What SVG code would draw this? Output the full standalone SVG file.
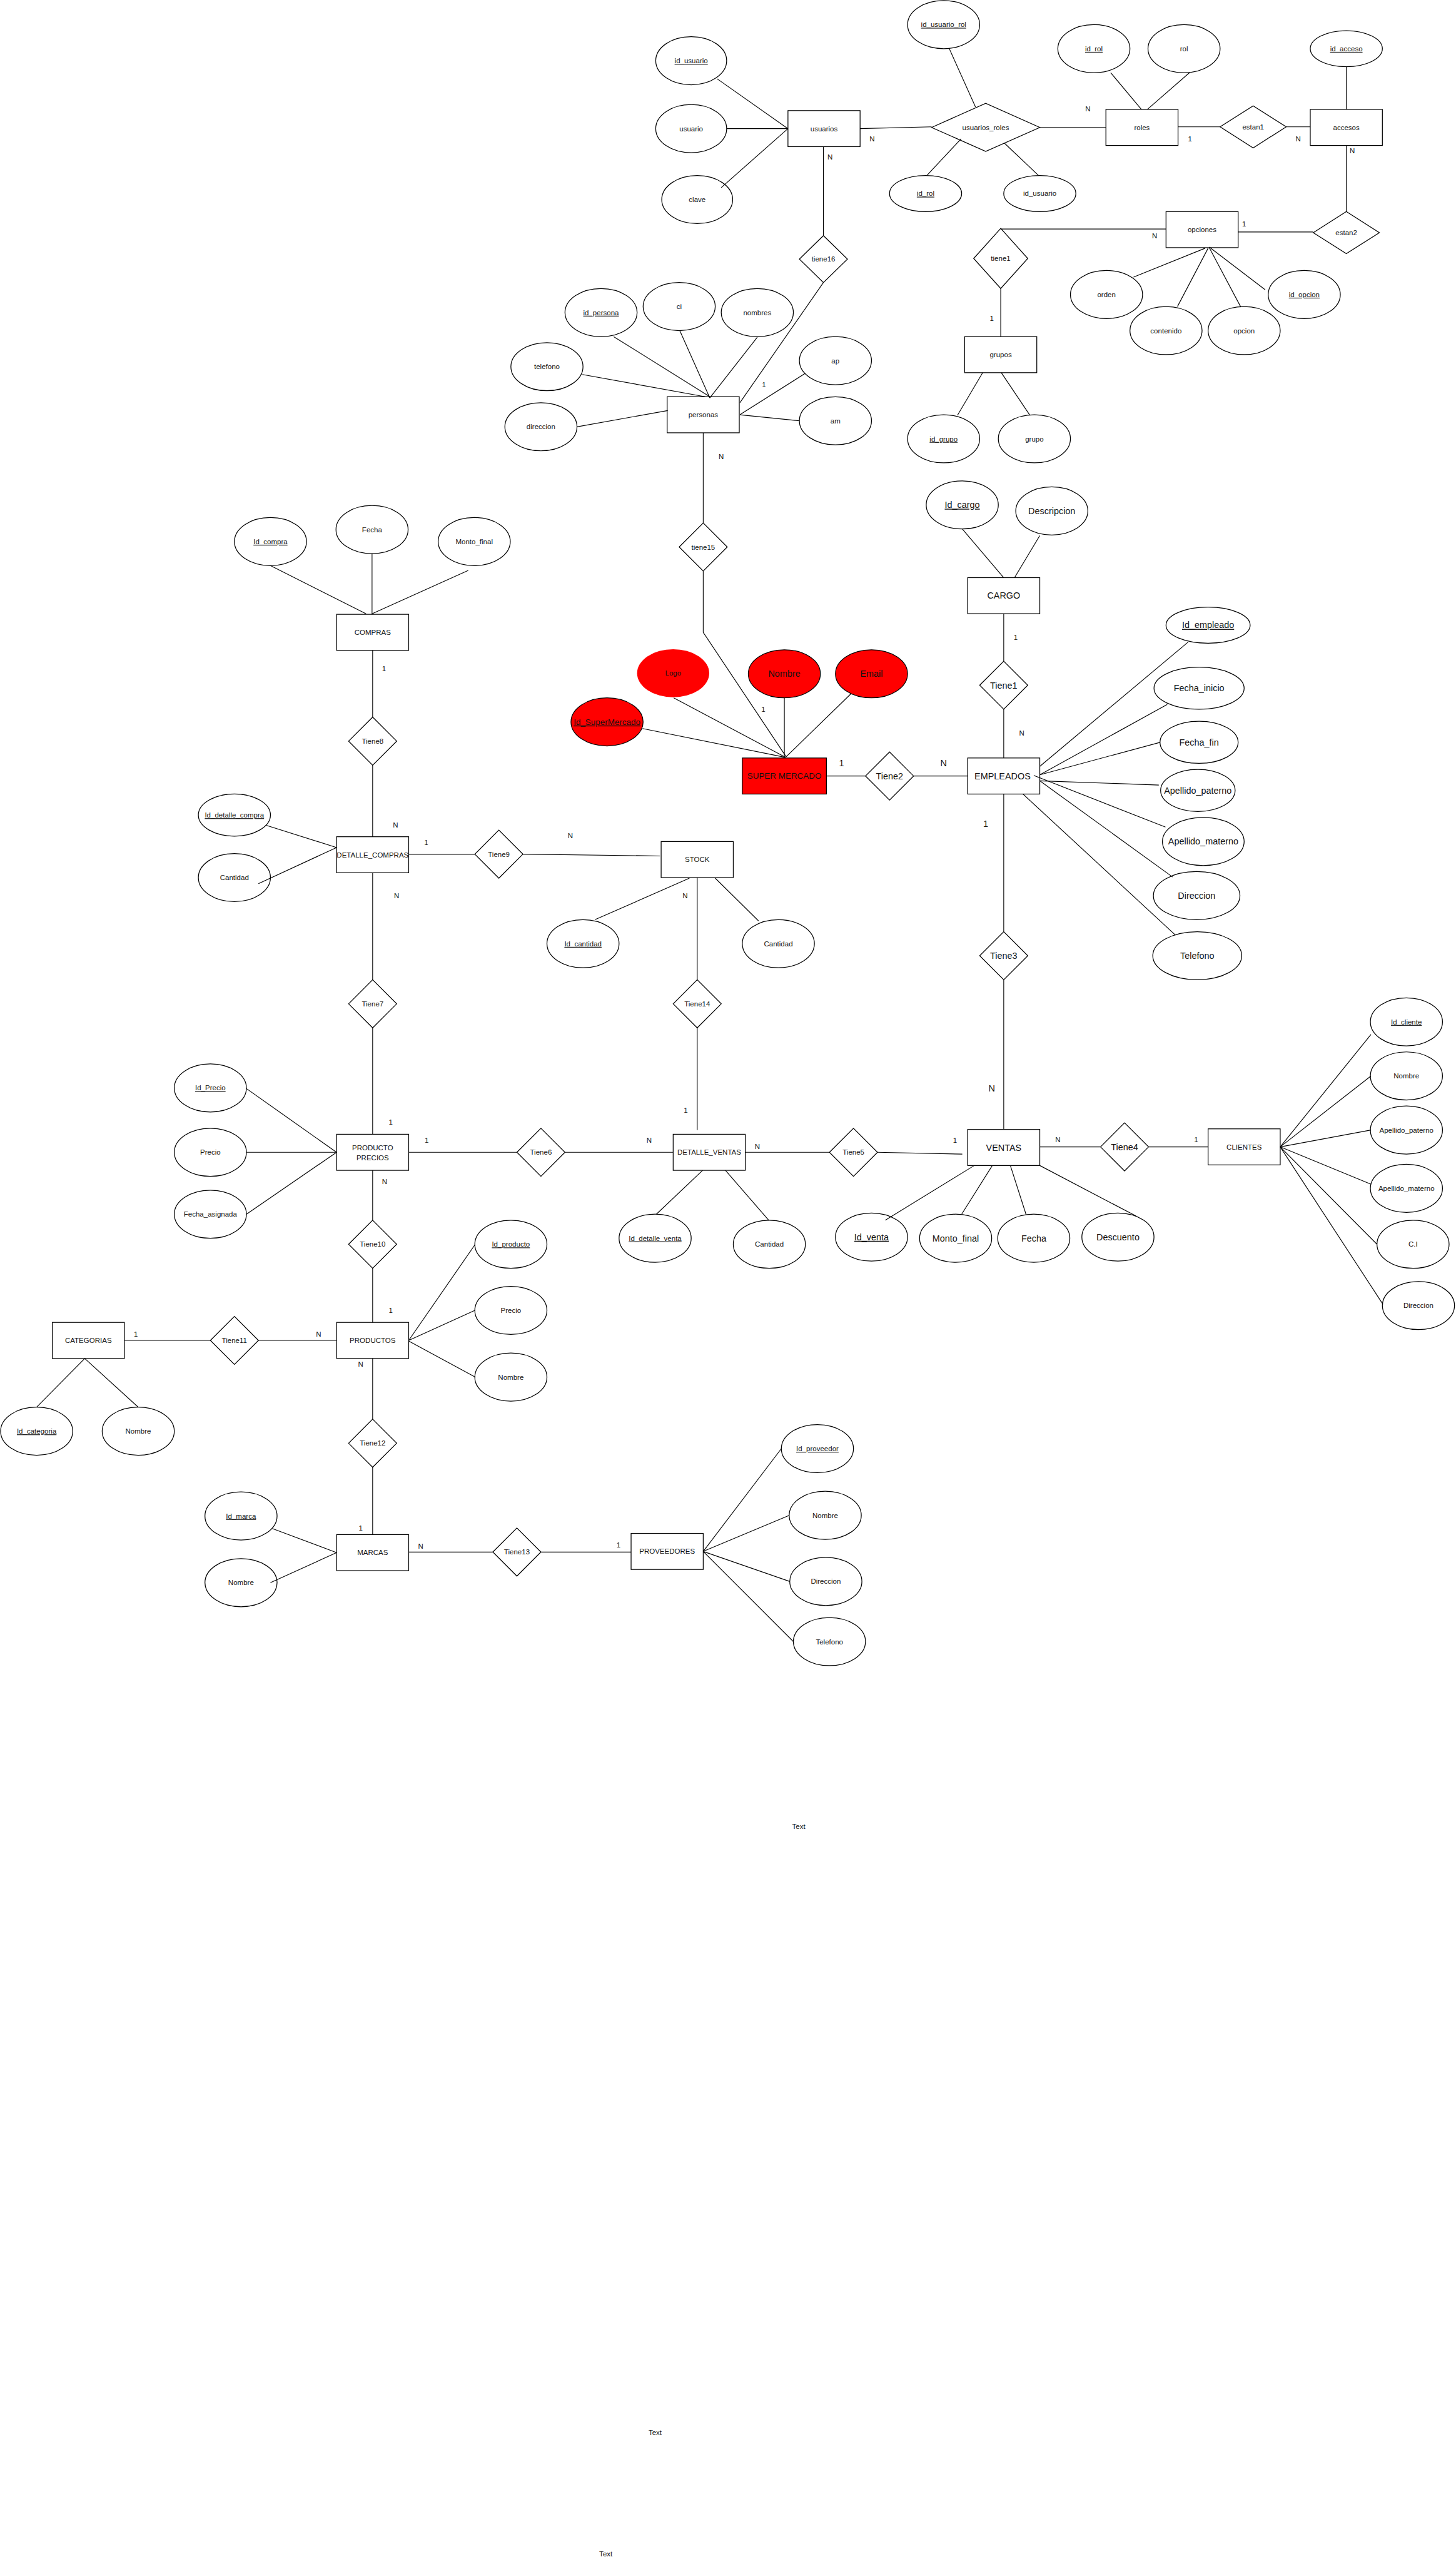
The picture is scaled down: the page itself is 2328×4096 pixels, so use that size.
<svg xmlns="http://www.w3.org/2000/svg" width="2328" height="4096" viewBox="0 0 2328 4096">
<style>
text{font-family:"Liberation Sans",Arial,Helvetica,sans-serif;font-size:12px;fill:#111;text-anchor:middle}
.b{font-size:15px}
.m{font-size:14px}
.k{text-decoration:underline}
.e rect,.a ellipse,.r polygon{fill:#fff;stroke:#000;stroke-width:1.3}
.red rect,.red ellipse{fill:#f00}
.nostroke ellipse{stroke:none}
#connectors line,#connectors polyline{stroke:#000;stroke-width:1.2;fill:none}
</style>
<rect width="2328" height="4096" fill="#fff"/>
<g transform="scale(0.961)">
<!-- entities -->
<g id="usuarios" class="e"><rect x="1311" y="184" width="120" height="60"/><text x="1371" y="214" dy=".35em">usuarios</text></g>
<g id="roles" class="e"><rect x="1840" y="182" width="120" height="60"/><text x="1900" y="212" dy=".35em">roles</text></g>
<g id="accesos" class="e"><rect x="2180" y="182" width="120" height="60"/><text x="2240" y="212" dy=".35em">accesos</text></g>
<g id="opciones" class="e"><rect x="1940" y="352" width="120" height="60"/><text x="2000" y="382" dy=".35em">opciones</text></g>
<g id="grupos" class="e"><rect x="1605" y="560" width="120" height="60"/><text x="1665" y="590" dy=".35em">grupos</text></g>
<g id="personas" class="e"><rect x="1110" y="660" width="120" height="60"/><text x="1170" y="690" dy=".35em">personas</text></g>
<g id="compras" class="e"><rect x="560" y="1022" width="120" height="60"/><text x="620" y="1052" dy=".35em">COMPRAS</text></g>
<g id="cargo" class="e"><rect x="1610" y="961" width="120" height="60"/><text class="b" x="1670" y="991" dy=".35em">CARGO</text></g>
<g id="supermercado" class="e red"><rect x="1235" y="1261" width="140" height="60"/><text class="m" x="1305" y="1291" dy=".35em">SUPER MERCADO</text></g>
<g id="empleados" class="e"><rect x="1610" y="1261" width="120" height="60"/><text class="b" x="1668" y="1291" dy=".35em">EMPLEADOS</text></g>
<g id="detalle_compras" class="e"><rect x="560" y="1392" width="120" height="60"/><text x="620" y="1422" dy=".35em">DETALLE_COMPRAS</text></g>
<g id="stock" class="e"><rect x="1100" y="1400" width="120" height="60"/><text x="1160" y="1430" dy=".35em">STOCK</text></g>
<g id="producto_precios" class="e"><rect x="560" y="1887" width="120" height="60"/><text x="620" y="1909" dy=".35em">PRODUCTO</text><text x="620" y="1926" dy=".35em">PRECIOS</text></g>
<g id="detalle_ventas" class="e"><rect x="1120" y="1887" width="120" height="60"/><text x="1180" y="1917" dy=".35em">DETALLE_VENTAS</text></g>
<g id="ventas" class="e"><rect x="1610" y="1879" width="120" height="60"/><text class="b" x="1670" y="1909" dy=".35em">VENTAS</text></g>
<g id="clientes" class="e"><rect x="2010" y="1878" width="120" height="60"/><text x="2070" y="1908" dy=".35em">CLIENTES</text></g>
<g id="productos" class="e"><rect x="560" y="2200" width="120" height="60"/><text x="620" y="2230" dy=".35em">PRODUCTOS</text></g>
<g id="categorias" class="e"><rect x="87" y="2200" width="120" height="60"/><text x="147" y="2230" dy=".35em">CATEGORIAS</text></g>
<g id="marcas" class="e"><rect x="560" y="2553" width="120" height="60"/><text x="620" y="2583" dy=".35em">MARCAS</text></g>
<g id="proveedores" class="e"><rect x="1050" y="2551" width="120" height="60"/><text x="1110" y="2581" dy=".35em">PROVEEDORES</text></g>
<!-- relationships -->
<g id="usuarios_roles" class="r"><polygon points="1550,212 1640,172 1730,212 1640,252"/><text x="1640" y="212" dy=".35em">usuarios_roles</text></g>
<g id="estan1" class="r"><polygon points="2030,211 2085,176 2140,211 2085,246"/><text x="2085" y="211" dy=".35em">estan1</text></g>
<g id="estan2" class="r"><polygon points="2185,387 2240,352 2295,387 2240,422"/><text x="2240" y="387" dy=".35em">estan2</text></g>
<g id="tiene1_grupos" class="r"><polygon points="1620,430 1665,380 1710,430 1665,480"/><text x="1665" y="430" dy=".35em">tiene1</text></g>
<g id="tiene16" class="r"><polygon points="1330,431 1370,392 1410,431 1370,470"/><text x="1370" y="431" dy=".35em">tiene16</text></g>
<g id="tiene15" class="r"><polygon points="1130,910 1170,870 1210,910 1170,950"/><text x="1170" y="910" dy=".35em">tiene15</text></g>
<g id="tiene8" class="r"><polygon points="580,1233 620,1193 660,1233 620,1273"/><text x="620" y="1233" dy=".35em">Tiene8</text></g>
<g id="tiene1" class="r"><polygon points="1630,1140 1670,1100 1710,1140 1670,1180"/><text class="b" x="1670" y="1140" dy=".35em">Tiene1</text></g>
<g id="tiene2" class="r"><polygon points="1440,1291 1480,1251 1520,1291 1480,1331"/><text class="b" x="1480" y="1291" dy=".35em">Tiene2</text></g>
<g id="tiene9" class="r"><polygon points="790,1421 830,1381 870,1421 830,1461"/><text x="830" y="1421" dy=".35em">Tiene9</text></g>
<g id="tiene3" class="r"><polygon points="1630,1590 1670,1550 1710,1590 1670,1630"/><text class="b" x="1670" y="1590" dy=".35em">Tiene3</text></g>
<g id="tiene7" class="r"><polygon points="580,1670 620,1630 660,1670 620,1710"/><text x="620" y="1670" dy=".35em">Tiene7</text></g>
<g id="tiene14" class="r"><polygon points="1120,1670 1160,1630 1200,1670 1160,1710"/><text x="1160" y="1670" dy=".35em">Tiene14</text></g>
<g id="tiene6" class="r"><polygon points="860,1917 900,1877 940,1917 900,1957"/><text x="900" y="1917" dy=".35em">Tiene6</text></g>
<g id="tiene5" class="r"><polygon points="1380,1917 1420,1877 1460,1917 1420,1957"/><text x="1420" y="1917" dy=".35em">Tiene5</text></g>
<g id="tiene4" class="r"><polygon points="1831,1908 1871,1868 1911,1908 1871,1948"/><text class="b" x="1871" y="1908" dy=".35em">Tiene4</text></g>
<g id="tiene10" class="r"><polygon points="580,2070 620,2030 660,2070 620,2110"/><text x="620" y="2070" dy=".35em">Tiene10</text></g>
<g id="tiene11" class="r"><polygon points="350,2230 390,2190 430,2230 390,2270"/><text x="390" y="2230" dy=".35em">Tiene11</text></g>
<g id="tiene12" class="r"><polygon points="580,2401 620,2361 660,2401 620,2441"/><text x="620" y="2401" dy=".35em">Tiene12</text></g>
<g id="tiene13" class="r"><polygon points="820,2582 860,2542 900,2582 860,2622"/><text x="860" y="2582" dy=".35em">Tiene13</text></g>
<!-- attributes -->
<g id="a_id_usuario" class="a"><ellipse cx="1150" cy="101" rx="59" ry="40"/><text class="k" x="1150" y="101" dy=".35em">id_usuario</text></g>
<g id="a_usuario" class="a"><ellipse cx="1150" cy="214" rx="59" ry="40"/><text x="1150" y="214" dy=".35em">usuario</text></g>
<g id="a_clave" class="a"><ellipse cx="1160" cy="332" rx="59" ry="40"/><text x="1160" y="332" dy=".35em">clave</text></g>
<g id="a_id_usuario_rol" class="a"><ellipse cx="1570" cy="41" rx="60" ry="40"/><text class="k" x="1570" y="41" dy=".35em">id_usuario_rol</text></g>
<g id="a_ur_id_rol" class="a"><ellipse cx="1540" cy="322" rx="60" ry="30"/><text class="k" x="1540" y="322" dy=".35em">id_rol</text></g>
<g id="a_ur_id_usuario" class="a"><ellipse cx="1730" cy="322" rx="60" ry="30"/><text x="1730" y="322" dy=".35em">id_usuario</text></g>
<g id="a_id_rol" class="a"><ellipse cx="1820" cy="81" rx="60" ry="40"/><text class="k" x="1820" y="81" dy=".35em">id_rol</text></g>
<g id="a_rol" class="a"><ellipse cx="1970" cy="81" rx="60" ry="40"/><text x="1970" y="81" dy=".35em">rol</text></g>
<g id="a_id_acceso" class="a"><ellipse cx="2240" cy="81" rx="60" ry="30"/><text class="k" x="2240" y="81" dy=".35em">id_acceso</text></g>
<g id="a_orden" class="a"><ellipse cx="1841" cy="490" rx="60" ry="40"/><text x="1841" y="490" dy=".35em">orden</text></g>
<g id="a_contenido" class="a"><ellipse cx="1940" cy="550" rx="60" ry="40"/><text x="1940" y="550" dy=".35em">contenido</text></g>
<g id="a_opcion" class="a"><ellipse cx="2070" cy="550" rx="60" ry="40"/><text x="2070" y="550" dy=".35em">opcion</text></g>
<g id="a_id_opcion" class="a"><ellipse cx="2170" cy="490" rx="60" ry="40"/><text class="k" x="2170" y="490" dy=".35em">id_opcion</text></g>
<g id="a_id_grupo" class="a"><ellipse cx="1570" cy="730" rx="60" ry="40"/><text class="k" x="1570" y="730" dy=".35em">id_grupo</text></g>
<g id="a_grupo" class="a"><ellipse cx="1721" cy="730" rx="60" ry="40"/><text x="1721" y="730" dy=".35em">grupo</text></g>
<g id="a_id_persona" class="a"><ellipse cx="1000" cy="520" rx="60" ry="40"/><text class="k" x="1000" y="520" dy=".35em">id_persona</text></g>
<g id="a_ci" class="a"><ellipse cx="1130" cy="510" rx="60" ry="40"/><text x="1130" y="510" dy=".35em">ci</text></g>
<g id="a_nombres" class="a"><ellipse cx="1260" cy="520" rx="60" ry="40"/><text x="1260" y="520" dy=".35em">nombres</text></g>
<g id="a_telefono" class="a"><ellipse cx="910" cy="610" rx="60" ry="40"/><text x="910" y="610" dy=".35em">telefono</text></g>
<g id="a_direccion" class="a"><ellipse cx="900" cy="710" rx="60" ry="40"/><text x="900" y="710" dy=".35em">direccion</text></g>
<g id="a_ap" class="a"><ellipse cx="1390" cy="600" rx="60" ry="40"/><text x="1390" y="600" dy=".35em">ap</text></g>
<g id="a_am" class="a"><ellipse cx="1390" cy="700" rx="60" ry="40"/><text x="1390" y="700" dy=".35em">am</text></g>
<g id="a_id_compra" class="a"><ellipse cx="450" cy="901" rx="60" ry="40"/><text class="k" x="450" y="901" dy=".35em">Id_compra</text></g>
<g id="a_c_fecha" class="a"><ellipse cx="619" cy="881" rx="60" ry="40"/><text x="619" y="881" dy=".35em">Fecha</text></g>
<g id="a_c_monto" class="a"><ellipse cx="789" cy="901" rx="60" ry="40"/><text x="789" y="901" dy=".35em">Monto_final</text></g>
<g id="a_id_cargo" class="a"><ellipse cx="1601" cy="840" rx="60" ry="40"/><text class="b k" x="1601" y="840" dy=".35em">Id_cargo</text></g>
<g id="a_descripcion" class="a"><ellipse cx="1750" cy="850" rx="60" ry="40"/><text class="b" x="1750" y="850" dy=".35em">Descripcion</text></g>
<g id="a_id_empleado" class="a"><ellipse cx="2010" cy="1040" rx="70" ry="30"/><text class="b k" x="2010" y="1040" dy=".35em">Id_empleado</text></g>
<g id="a_fecha_inicio" class="a"><ellipse cx="1995" cy="1145" rx="75" ry="35"/><text class="b" x="1995" y="1145" dy=".35em">Fecha_inicio</text></g>
<g id="a_fecha_fin" class="a"><ellipse cx="1995" cy="1235" rx="65" ry="35"/><text class="b" x="1995" y="1235" dy=".35em">Fecha_fin</text></g>
<g id="a_e_ap" class="a"><ellipse cx="1993" cy="1315" rx="62" ry="35"/><text class="b" x="1993" y="1315" dy=".35em">Apellido_paterno</text></g>
<g id="a_e_am" class="a"><ellipse cx="2002" cy="1400" rx="68" ry="40"/><text class="b" x="2002" y="1400" dy=".35em">Apellido_materno</text></g>
<g id="a_e_dir" class="a"><ellipse cx="1991" cy="1490" rx="72" ry="40"/><text class="b" x="1991" y="1490" dy=".35em">Direccion</text></g>
<g id="a_e_tel" class="a"><ellipse cx="1992" cy="1590" rx="74" ry="40"/><text class="b" x="1992" y="1590" dy=".35em">Telefono</text></g>
<g id="a_logo" class="a red nostroke"><ellipse cx="1120" cy="1120" rx="60" ry="40"/><text x="1120" y="1120" dy=".35em">Logo</text></g>
<g id="a_sm_nombre" class="a red"><ellipse cx="1305" cy="1121" rx="60" ry="40"/><text class="b" x="1305" y="1121" dy=".35em">Nombre</text></g>
<g id="a_sm_email" class="a red"><ellipse cx="1450" cy="1121" rx="60" ry="40"/><text class="b" x="1450" y="1121" dy=".35em">Email</text></g>
<g id="a_id_super" class="a red"><ellipse cx="1010" cy="1201" rx="60" ry="40"/><text class="m k" x="1010" y="1201" dy=".35em">Id_SuperMercado</text></g>
<g id="a_id_det_compra" class="a"><ellipse cx="390" cy="1356" rx="60" ry="35"/><text class="k" x="390" y="1356" dy=".35em">Id_detalle_compra</text></g>
<g id="a_dc_cantidad" class="a"><ellipse cx="390" cy="1460" rx="60" ry="40"/><text x="390" y="1460" dy=".35em">Cantidad</text></g>
<g id="a_id_cantidad" class="a"><ellipse cx="970" cy="1570" rx="60" ry="40"/><text class="k" x="970" y="1570" dy=".35em">Id_cantidad</text></g>
<g id="a_s_cantidad" class="a"><ellipse cx="1295" cy="1570" rx="60" ry="40"/><text x="1295" y="1570" dy=".35em">Cantidad</text></g>
<g id="a_id_precio" class="a"><ellipse cx="350" cy="1810" rx="60" ry="40"/><text class="k" x="350" y="1810" dy=".35em">Id_Precio</text></g>
<g id="a_pp_precio" class="a"><ellipse cx="350" cy="1917" rx="60" ry="40"/><text x="350" y="1917" dy=".35em">Precio</text></g>
<g id="a_fecha_asig" class="a"><ellipse cx="350" cy="2020" rx="60" ry="40"/><text x="350" y="2020" dy=".35em">Fecha_asignada</text></g>
<g id="a_id_det_venta" class="a"><ellipse cx="1090" cy="2060" rx="60" ry="40"/><text class="k" x="1090" y="2060" dy=".35em">Id_detalle_venta</text></g>
<g id="a_dv_cantidad" class="a"><ellipse cx="1280" cy="2070" rx="60" ry="40"/><text x="1280" y="2070" dy=".35em">Cantidad</text></g>
<g id="a_id_venta" class="a"><ellipse cx="1450" cy="2058" rx="60" ry="40"/><text class="b k" x="1450" y="2058" dy=".35em">Id_venta</text></g>
<g id="a_v_monto" class="a"><ellipse cx="1590" cy="2060" rx="60" ry="40"/><text class="b" x="1590" y="2060" dy=".35em">Monto_final</text></g>
<g id="a_v_fecha" class="a"><ellipse cx="1720" cy="2060" rx="60" ry="40"/><text class="b" x="1720" y="2060" dy=".35em">Fecha</text></g>
<g id="a_v_desc" class="a"><ellipse cx="1860" cy="2058" rx="60" ry="40"/><text class="b" x="1860" y="2058" dy=".35em">Descuento</text></g>
<g id="a_id_cliente" class="a"><ellipse cx="2340" cy="1700" rx="60" ry="40"/><text class="k" x="2340" y="1700" dy=".35em">Id_cliente</text></g>
<g id="a_cl_nombre" class="a"><ellipse cx="2340" cy="1790" rx="60" ry="40"/><text x="2340" y="1790" dy=".35em">Nombre</text></g>
<g id="a_cl_ap" class="a"><ellipse cx="2340" cy="1880" rx="60" ry="40"/><text x="2340" y="1880" dy=".35em">Apellido_paterno</text></g>
<g id="a_cl_am" class="a"><ellipse cx="2340" cy="1977" rx="60" ry="40"/><text x="2340" y="1977" dy=".35em">Apellido_materno</text></g>
<g id="a_cl_ci" class="a"><ellipse cx="2351" cy="2070" rx="60" ry="40"/><text x="2351" y="2070" dy=".35em">C.I</text></g>
<g id="a_cl_dir" class="a"><ellipse cx="2360" cy="2172" rx="60" ry="40"/><text x="2360" y="2172" dy=".35em">Direccion</text></g>
<g id="a_id_producto" class="a"><ellipse cx="850" cy="2070" rx="60" ry="40"/><text class="k" x="850" y="2070" dy=".35em">Id_producto</text></g>
<g id="a_p_precio" class="a"><ellipse cx="850" cy="2180" rx="60" ry="40"/><text x="850" y="2180" dy=".35em">Precio</text></g>
<g id="a_p_nombre" class="a"><ellipse cx="850" cy="2291" rx="60" ry="40"/><text x="850" y="2291" dy=".35em">Nombre</text></g>
<g id="a_id_categoria" class="a"><ellipse cx="61" cy="2381" rx="60" ry="40"/><text class="k" x="61" y="2381" dy=".35em">Id_categoria</text></g>
<g id="a_cat_nombre" class="a"><ellipse cx="230" cy="2381" rx="60" ry="40"/><text x="230" y="2381" dy=".35em">Nombre</text></g>
<g id="a_id_marca" class="a"><ellipse cx="401" cy="2522" rx="60" ry="40"/><text class="k" x="401" y="2522" dy=".35em">Id_marca</text></g>
<g id="a_m_nombre" class="a"><ellipse cx="401" cy="2633" rx="60" ry="40"/><text x="401" y="2633" dy=".35em">Nombre</text></g>
<g id="a_id_proveedor" class="a"><ellipse cx="1360" cy="2410" rx="60" ry="40"/><text class="k" x="1360" y="2410" dy=".35em">Id_proveedor</text></g>
<g id="a_pr_nombre" class="a"><ellipse cx="1373" cy="2521" rx="60" ry="40"/><text x="1373" y="2521" dy=".35em">Nombre</text></g>
<g id="a_pr_dir" class="a"><ellipse cx="1374" cy="2631" rx="60" ry="40"/><text x="1374" y="2631" dy=".35em">Direccion</text></g>
<g id="a_pr_tel" class="a"><ellipse cx="1380" cy="2731" rx="60" ry="40"/><text x="1380" y="2731" dy=".35em">Telefono</text></g>
<!-- connectors -->
<g id="connectors">
<line x1="1193" y1="131" x2="1311" y2="214"/>
<line x1="1209" y1="214" x2="1311" y2="214"/>
<line x1="1200" y1="312" x2="1311" y2="214"/>
<line x1="1431" y1="214" x2="1550" y2="211"/>
<line x1="1579" y1="80" x2="1623" y2="178"/>
<line x1="1542" y1="292" x2="1599" y2="231"/>
<line x1="1728" y1="292" x2="1671" y2="238"/>
<line x1="1730" y1="212" x2="1840" y2="212"/>
<line x1="1848" y1="121" x2="1899" y2="182"/>
<line x1="1979" y1="121" x2="1909" y2="182"/>
<line x1="1960" y1="211" x2="2030" y2="211"/>
<line x1="2140" y1="211" x2="2180" y2="211"/>
<line x1="2240" y1="111" x2="2240" y2="182"/>
<line x1="2240" y1="242" x2="2240" y2="352"/>
<line x1="2060" y1="386" x2="2185" y2="386"/>
<line x1="1940" y1="381" x2="1665" y2="381"/>
<line x1="1665" y1="480" x2="1665" y2="560"/>
<line x1="1593" y1="691" x2="1635" y2="620"/>
<line x1="1713" y1="690" x2="1666" y2="620"/>
<line x1="1886" y1="461" x2="2005" y2="413"/>
<line x1="1959" y1="510" x2="2010" y2="413"/>
<line x1="2064" y1="510" x2="2012" y2="412"/>
<line x1="2105" y1="482" x2="2012" y2="411"/>
<line x1="1370" y1="244" x2="1370" y2="392"/>
<line x1="1370" y1="470" x2="1231" y2="670"/>
<line x1="1021" y1="560" x2="1181" y2="660"/>
<line x1="1131" y1="550" x2="1181" y2="662"/>
<line x1="1260" y1="561" x2="1181" y2="662"/>
<line x1="969" y1="623" x2="1173" y2="660"/>
<line x1="960" y1="710" x2="1111" y2="683"/>
<line x1="1340" y1="621" x2="1231" y2="690"/>
<line x1="1231" y1="690" x2="1330" y2="700"/>
<line x1="1170" y1="720" x2="1170" y2="870"/>
<polyline points="1170,950 1170,1052 1308,1259"/>
<line x1="1069" y1="1212" x2="1307" y2="1260"/>
<line x1="1121" y1="1161" x2="1307" y2="1260"/>
<line x1="1305" y1="1161" x2="1305" y2="1260"/>
<line x1="1416" y1="1154" x2="1308" y2="1259"/>
<line x1="1375" y1="1291" x2="1440" y2="1291"/>
<line x1="1520" y1="1291" x2="1610" y2="1291"/>
<line x1="1601" y1="880" x2="1670" y2="961"/>
<line x1="1730" y1="891" x2="1688" y2="961"/>
<line x1="1670" y1="1021" x2="1670" y2="1100"/>
<line x1="1670" y1="1180" x2="1670" y2="1261"/>
<line x1="1730" y1="1275" x2="1977" y2="1068"/>
<line x1="1730" y1="1289" x2="1942" y2="1172"/>
<line x1="1730" y1="1289" x2="1930" y2="1235"/>
<line x1="1730" y1="1299" x2="1928" y2="1306"/>
<line x1="1720" y1="1290" x2="1939" y2="1376"/>
<line x1="1730" y1="1299" x2="1951" y2="1459"/>
<line x1="1702" y1="1321" x2="1955" y2="1555"/>
<line x1="1670" y1="1321" x2="1670" y2="1550"/>
<line x1="1670" y1="1630" x2="1670" y2="1879"/>
<line x1="450" y1="941" x2="609" y2="1021"/>
<line x1="619" y1="921" x2="619" y2="1022"/>
<line x1="779" y1="949" x2="619" y2="1021"/>
<line x1="620" y1="1082" x2="620" y2="1193"/>
<line x1="620" y1="1273" x2="620" y2="1392"/>
<line x1="443" y1="1373" x2="560" y2="1410"/>
<line x1="430" y1="1470" x2="560" y2="1410"/>
<line x1="680" y1="1421" x2="790" y2="1421"/>
<line x1="870" y1="1421" x2="1098" y2="1424"/>
<line x1="620" y1="1452" x2="620" y2="1630"/>
<line x1="620" y1="1710" x2="620" y2="1887"/>
<line x1="1147" y1="1461" x2="990" y2="1530"/>
<line x1="1190" y1="1461" x2="1262" y2="1532"/>
<line x1="1160" y1="1460" x2="1160" y2="1630"/>
<line x1="1160" y1="1710" x2="1160" y2="1880"/>
<line x1="410" y1="1811" x2="560" y2="1917"/>
<line x1="410" y1="1917" x2="560" y2="1917"/>
<line x1="410" y1="2020" x2="560" y2="1917"/>
<line x1="680" y1="1917" x2="860" y2="1917"/>
<line x1="940" y1="1917" x2="1120" y2="1917"/>
<line x1="620" y1="1947" x2="620" y2="2030"/>
<line x1="620" y1="2110" x2="620" y2="2200"/>
<line x1="1240" y1="1917" x2="1380" y2="1917"/>
<line x1="1460" y1="1917" x2="1601" y2="1920"/>
<line x1="1169" y1="1947" x2="1092" y2="2020"/>
<line x1="1207" y1="1947" x2="1279" y2="2030"/>
<line x1="1730" y1="1908" x2="1831" y2="1908"/>
<line x1="1911" y1="1908" x2="2010" y2="1908"/>
<line x1="1621" y1="1939" x2="1473" y2="2030"/>
<line x1="1651" y1="1939" x2="1600" y2="2020"/>
<line x1="1681" y1="1939" x2="1707" y2="2020"/>
<line x1="1730" y1="1939" x2="1890" y2="2023"/>
<line x1="2130" y1="1908" x2="2281" y2="1721"/>
<line x1="2130" y1="1908" x2="2281" y2="1790"/>
<line x1="2130" y1="1908" x2="2281" y2="1880"/>
<line x1="2130" y1="1908" x2="2281" y2="1970"/>
<line x1="2130" y1="1908" x2="2291" y2="2070"/>
<line x1="2130" y1="1908" x2="2301" y2="2170"/>
<line x1="790" y1="2071" x2="680" y2="2230"/>
<line x1="790" y1="2180" x2="680" y2="2230"/>
<line x1="791" y1="2291" x2="680" y2="2231"/>
<line x1="207" y1="2230" x2="350" y2="2230"/>
<line x1="430" y1="2230" x2="560" y2="2230"/>
<line x1="141" y1="2260" x2="61" y2="2341"/>
<line x1="141" y1="2260" x2="230" y2="2341"/>
<line x1="620" y1="2260" x2="620" y2="2361"/>
<line x1="620" y1="2441" x2="620" y2="2553"/>
<line x1="453" y1="2543" x2="560" y2="2583"/>
<line x1="450" y1="2633" x2="560" y2="2583"/>
<line x1="680" y1="2582" x2="820" y2="2582"/>
<line x1="900" y1="2582" x2="1050" y2="2582"/>
<line x1="1170" y1="2581" x2="1300" y2="2410"/>
<line x1="1170" y1="2581" x2="1313" y2="2521"/>
<line x1="1170" y1="2581" x2="1314" y2="2631"/>
<line x1="1170" y1="2581" x2="1320" y2="2731"/>
</g>
<!-- cardinality labels -->
<g id="labels">
<text x="1451" y="231" dy=".35em">N</text>
<text x="1381" y="261" dy=".35em">N</text>
<text x="1810" y="181" dy=".35em">N</text>
<text x="1980" y="231" dy=".35em">1</text>
<text x="2160" y="231" dy=".35em">N</text>
<text x="2250" y="251" dy=".35em">N</text>
<text x="2070" y="372" dy=".35em">1</text>
<text x="1921" y="392" dy=".35em">N</text>
<text x="1650" y="530" dy=".35em">1</text>
<text x="1271" y="640" dy=".35em">1</text>
<text x="1200" y="760" dy=".35em">N</text>
<text x="1270" y="1180" dy=".35em">1</text>
<text class="b" x="1400" y="1270" dy=".35em">1</text>
<text class="b" x="1570" y="1270" dy=".35em">N</text>
<text x="1690" y="1060" dy=".35em">1</text>
<text x="1700" y="1220" dy=".35em">N</text>
<text class="b" x="1640" y="1370" dy=".35em">1</text>
<text class="b" x="1650" y="1811" dy=".35em">N</text>
<text x="639" y="1112" dy=".35em">1</text>
<text x="658" y="1373" dy=".35em">N</text>
<text x="709" y="1402" dy=".35em">1</text>
<text x="949" y="1390" dy=".35em">N</text>
<text x="660" y="1490" dy=".35em">N</text>
<text x="1140" y="1490" dy=".35em">N</text>
<text x="650" y="1867" dy=".35em">1</text>
<text x="710" y="1897" dy=".35em">1</text>
<text x="1080" y="1897" dy=".35em">N</text>
<text x="1141" y="1847" dy=".35em">1</text>
<text x="1260" y="1907" dy=".35em">N</text>
<text x="1589" y="1897" dy=".35em">1</text>
<text x="1760" y="1896" dy=".35em">N</text>
<text x="1990" y="1896" dy=".35em">1</text>
<text x="640" y="1966" dy=".35em">N</text>
<text x="650" y="2180" dy=".35em">1</text>
<text x="530" y="2220" dy=".35em">N</text>
<text x="226" y="2220" dy=".35em">1</text>
<text x="600" y="2270" dy=".35em">N</text>
<text x="600" y="2542" dy=".35em">1</text>
<text x="700" y="2572" dy=".35em">N</text>
<text x="1029" y="2570" dy=".35em">1</text>
<text x="1329" y="3039" dy=".35em">Text</text>
<text x="1090" y="4047" dy=".35em">Text</text>
<text x="1008" y="4249" dy=".35em">Text</text>
</g>
</g>
</svg>
